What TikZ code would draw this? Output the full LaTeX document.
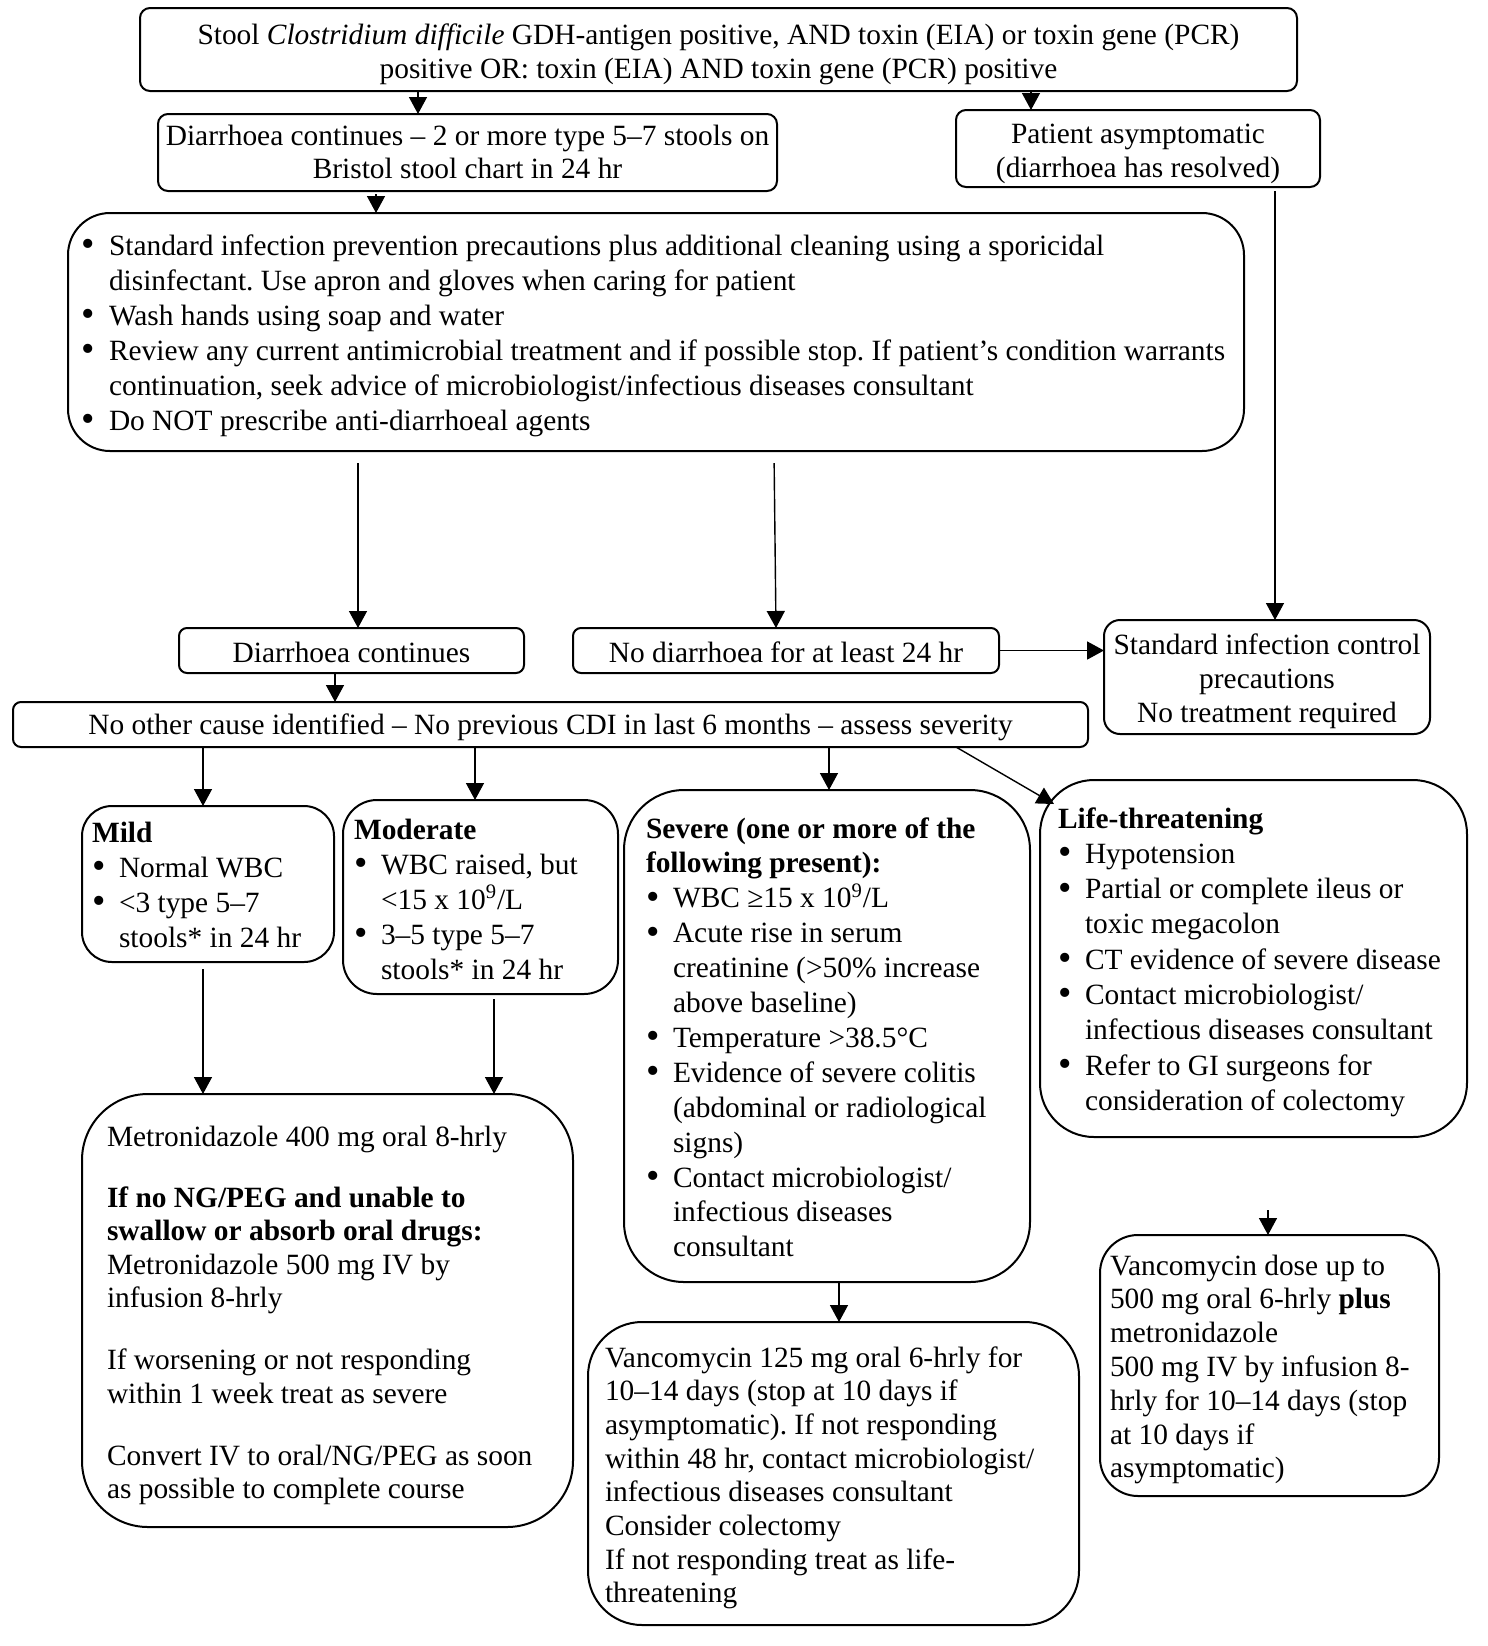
\documentclass[tikz,border=0pt]{standalone}
\usepackage{graphicx}
\usepackage{fontspec}
\setmainfont{Liberation Serif}
\usetikzlibrary{arrows.meta}
\frenchspacing
\newlength\bind
\setlength\bind{13.5pt}
\newcommand\bdot{\raisebox{-0.05em}{\scalebox{1.3}{\textbullet}}}
\newcommand\bitem[1]{\par\hangindent=\bind\hangafter=1\noindent\makebox[\bind][l]{\bdot}#1}
\newcommand\ltxt[3]{\parbox[t]{#1}{\frenchspacing\rightskip=0pt plus 1fil\parfillskip=0pt plus 1fil\parskip=0pt\parindent=0pt\fontsize{14.7}{#2}\selectfont #3}}
\newcommand\ctxt[3]{\parbox[t]{#1}{\frenchspacing\centering\parskip=0pt\fontsize{14.7}{#2}\selectfont #3}}
\begin{document}
\begin{tikzpicture}[x=0.5pt,y=-0.5pt,
  every node/.style={inner sep=0pt, outer sep=0pt},
  box/.style={draw, line width=1pt},
  arr/.style={draw, line width=0.7pt, -{Triangle[length=8.5pt,width=9pt]}},
  tl/.style={anchor=base west},
  tc/.style={anchor=base},
  font=\fontsize{14.7}{17.5}\selectfont]
\fill[white] (0,0) rectangle (1488,1646);
\useasboundingbox (0,0) rectangle (1488,1646);

% boxes
\node[box, rounded corners=5pt, minimum width=578.5pt, minimum height=41.5pt] (b1) at (718.5,49.5) {};
\node[box, rounded corners=5pt, minimum width=309.5pt, minimum height=38.5pt] (b2) at (467.5,152.5) {};
\node[box, rounded corners=5pt, minimum width=182pt, minimum height=38.5pt] (b3) at (1138,148.5) {};
\node[box, rounded corners=21pt, minimum width=588pt, minimum height=119pt] (b4) at (656,332) {};
\node[box, rounded corners=4pt, minimum width=172.5pt, minimum height=22.5pt] (dc) at (351.5,650.5) {};
\node[box, rounded corners=4pt, minimum width=213pt, minimum height=22.5pt] (nd) at (786,650.5) {};
\node[box, rounded corners=8pt, minimum width=163pt, minimum height=57pt] (std) at (1267,677) {};
\node[box, rounded corners=4pt, minimum width=537.5pt, minimum height=22.5pt] (noc) at (550.5,724.5) {};
\node[box, rounded corners=15pt, minimum width=126pt, minimum height=78pt] (mild) at (208,884) {};
\node[box, rounded corners=17pt, minimum width=137.5pt, minimum height=97pt] (mod) at (480.5,897) {};
\node[box, rounded corners=30pt, minimum width=203pt, minimum height=246pt] (sev) at (827,1036) {};
\node[box, rounded corners=27pt, minimum width=213.5pt, minimum height=178.5pt] (life) at (1253.5,958.5) {};
\node[box, rounded corners=33pt, minimum width=245.5pt, minimum height=216.5pt] (metro) at (327.5,1310.5) {};
\node[box, rounded corners=27pt, minimum width=245.5pt, minimum height=151.5pt] (vanco) at (833.5,1473.5) {};
\node[box, rounded corners=19pt, minimum width=169.5pt, minimum height=130.5pt] (v500) at (1269.5,1365.5) {};

% texts
\node[tc] (t1) at (718.5,44) {\ctxt{570pt}{17pt}{Stool \textit{Clostridium difficile} GDH-antigen positive, AND toxin (EIA) or toxin gene (PCR)\\positive OR: toxin (EIA) AND toxin gene (PCR) positive}};
\node[tc] (t2) at (467.5,145) {\ctxt{400pt}{16.5pt}{Diarrhoea continues – 2 or more type 5–7 stools on\\Bristol stool chart in 24 hr}};
\node[tc] (t3) at (1138,143) {\ctxt{250pt}{17pt}{Patient asymptomatic\\(diarrhoea has resolved)}};
\node[tl] (t4) at (82,255) {\ltxt{580pt}{17.5pt}{%
\bitem{Standard infection prevention precautions plus additional cleaning using a sporicidal\\disinfectant. Use apron and gloves when caring for patient}
\bitem{Wash hands using soap and water}
\bitem{Review any current antimicrobial treatment and if possible stop. If patient’s condition warrants\\continuation, seek advice of microbiologist/infectious diseases consultant}
\bitem{Do NOT prescribe anti-diarrhoeal agents}}};
\node[tc] (tdc) at (351.5,662) {Diarrhoea continues};
\node[tc] (tnd) at (786,662) {No diarrhoea for at least 24 hr};
\node[tc] (tstd) at (1267,654) {\ctxt{200pt}{17pt}{Standard infection control\\precautions\\No treatment required}};
\node[tc] (tnoc) at (550.5,734) {No other cause identified – No previous CDI in last 6 months – assess severity};
\node[tl] (tmild) at (92,842) {\ltxt{200pt}{17.6pt}{{\bfseries Mild}
\bitem{Normal WBC}
\bitem{<3 type 5–7\\stools* in 24 hr}}};
\node[tl] (tmod) at (354,839) {\ltxt{200pt}{17.5pt}{{\bfseries Moderate}
\bitem{WBC raised, but\\<15 x 10\textsuperscript{9}/L}
\bitem{3–5 type 5–7\\stools* in 24 hr}}};
\node[tl] (tsev) at (646,838) {\ltxt{250pt}{17.45pt}{{\bfseries Severe (one or more of the\\following present):}
\bitem{WBC ≥15 x 10\textsuperscript{9}/L}
\bitem{Acute rise in serum\\creatinine (>50\% increase\\above baseline)}
\bitem{Temperature >38.5°C}
\bitem{Evidence of severe colitis\\(abdominal or radiological\\signs)}
\bitem{Contact microbiologist/\\infectious diseases\\consultant}}};
\node[tl] (tlife) at (1058,828) {\ltxt{250pt}{17.65pt}{{\bfseries Life-threatening}
\bitem{Hypotension}
\bitem{Partial or complete ileus or\\toxic megacolon}
\bitem{CT evidence of severe disease}
\bitem{Contact microbiologist/\\infectious diseases consultant}
\bitem{Refer to GI surgeons for\\consideration of colectomy}}};
\node[tl] (tmetro) at (107,1146) {\ltxt{280pt}{16.75pt}{Metronidazole 400 mg oral 8-hrly\\[13.75pt]
{\bfseries If no NG/PEG and unable to\\swallow or absorb oral drugs:}\\
Metronidazole 500 mg IV by\\infusion 8-hrly\\[14.25pt]
If worsening or not responding\\within 1 week treat as severe\\[14.25pt]
Convert IV to oral/NG/PEG as soon\\as possible to complete course}};
\node[tl] (tvanco) at (605,1367) {\ltxt{280pt}{16.85pt}{Vancomycin 125 mg oral 6-hrly for\\10–14 days (stop at 10 days if\\asymptomatic). If not responding\\within 48 hr, contact microbiologist/\\infectious diseases consultant\\Consider colectomy\\If not responding treat as life-\\threatening}};
\node[tl] (tv500) at (1110,1275) {\ltxt{200pt}{16.9pt}{Vancomycin dose up to\\500 mg oral 6-hrly {\bfseries plus}\\metronidazole\\500 mg IV by infusion 8-\\hrly for 10–14 days (stop\\at 10 days if\\asymptomatic)}};

% connectors
\coordinate (c1) at (418,0);
\coordinate (c2) at (1031,0);
\coordinate (c3) at (376,0);
\coordinate (c4) at (358,0);
\coordinate (c5a) at (774,0);
\coordinate (c5b) at (776,0);
\coordinate (c6) at (1275,0);
\coordinate (c7) at (335,0);
\coordinate (c9) at (203,0);
\coordinate (c10) at (475,0);
\coordinate (c11) at (829,0);
\coordinate (c12) at (956,0);
\coordinate (lifetip) at (1054,804);
\coordinate (c14) at (494,0);
\coordinate (c15) at (839,0);
\coordinate (v500in) at (1268,1210);

\draw[arr] (b1.south -| c1) -- (b2.north -| c1);
\draw[arr] (b1.south -| c2) -- (b3.north -| c2);
\draw[arr, shorten <=1.5pt] (b2.south -| c3) -- (b4.north -| c3);
\draw[arr, shorten <=6pt] (b4.south -| c4) -- (dc.north -| c4);
\draw[arr, shorten <=6pt] (b4.south -| c5a) -- (nd.north -| c5b);
\draw[arr, shorten <=2pt] (b3.south -| c6) -- (std.north -| c6);
\draw[arr] (dc.south -| c7) -- (noc.north -| c7);
\draw[arr, line width=0.9pt] (nd.east) -- (std.west |- nd.east);
\draw[arr] (noc.south -| c9) -- (mild.north -| c9);
\draw[arr] (noc.south -| c10) -- (mod.north -| c10);
\draw[arr] (noc.south -| c11) -- (sev.north -| c11);
\draw[arr] (noc.south -| c12) -- (lifetip);
\draw[arr, shorten <=3.5pt] (mild.south -| c9) -- (metro.north -| c9);
\draw[arr, shorten <=2.5pt] (mod.south -| c14) -- (metro.north -| c14);
\draw[arr] (sev.south -| c15) -- (vanco.north -| c15);
\draw[arr] (v500in) -- (v500.north -| v500in);
\end{tikzpicture}
\end{document}
